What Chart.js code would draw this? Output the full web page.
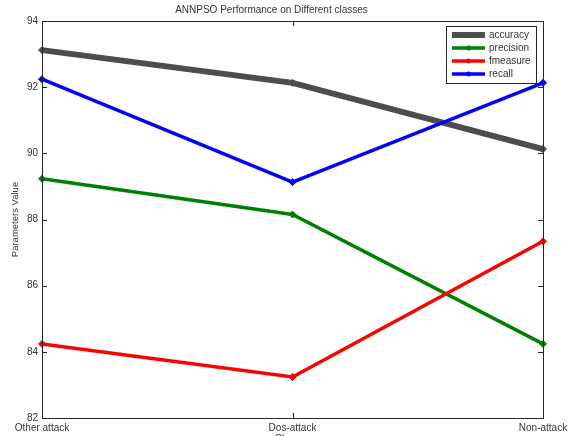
<!DOCTYPE html>
<html>
<head>
<meta charset="utf-8">
<script src="https://cdn.jsdelivr.net/npm/chart.js@4/dist/chart.umd.min.js"></script>
<style>
  html, body { margin: 0; padding: 0; background: #fff; overflow: hidden; }
  #wrap { width: 575px; height: 436px; overflow: hidden; position: relative; }
</style>
</head>
<body>
<div id="wrap"><canvas id="myChart" width="575" height="445"></canvas></div>
<script>
var classes = ["Other attack", "Dos-attack", "Non-attack"];
var accuracy = [93.12, 92.13, 90.13];
var precision = [89.23, 88.15, 84.24];
var fmeasure = [84.24, 83.24, 87.34];
var recall = [92.24, 89.13, 92.13];
var yTicks = [82, 84, 86, 88, 90, 92, 94];

var FONT = "'Liberation Sans', Arial, sans-serif";
var TXT = "#333333";

// frame, inward ticks and boxed legend, MATLAB style
var matlabAxes = {
  id: 'matlabAxes',
  afterDatasetsDraw: function(chart) {
    var c = chart.ctx, a = chart.chartArea;
    var xs = chart.scales.x, ys = chart.scales.y;
    c.save();
    c.strokeStyle = "#262626";
    c.lineWidth = 1;
    c.beginPath();
    yTicks.forEach(function(v) {
      var y = Math.round(ys.getPixelForValue(v)) + 0.5;
      c.moveTo(a.left, y); c.lineTo(a.left + 5, y);
      c.moveTo(a.right, y); c.lineTo(a.right - 5, y);
    });
    classes.forEach(function(k, i) {
      var x = Math.round(xs.getPixelForValue(i)) + 0.5;
      c.moveTo(x, a.bottom); c.lineTo(x, a.bottom - 5);
      c.moveTo(x, a.top); c.lineTo(x, a.top + 5);
    });
    c.stroke();
    c.strokeRect(Math.round(a.left) + 0.5, Math.round(a.top) + 0.5,
                 Math.round(a.right - a.left), Math.round(a.bottom - a.top));

    // legend
    var lx = 446, ly = 26, lw = 90, lh = 57;
    c.fillStyle = "#fff";
    c.fillRect(lx, ly, lw, lh);
    c.strokeStyle = "#262626";
    c.strokeRect(lx + 0.5, ly + 0.5, lw, lh);
    var ds = chart.data.datasets;
    c.font = "10px " + FONT;
    c.textBaseline = "middle";
    for (var i = 0; i < ds.length; i++) {
      var y = ly + 9 + i * 13;
      c.strokeStyle = ds[i].borderColor;
      c.lineWidth = ds[i].borderWidth;
      c.beginPath(); c.moveTo(452, y); c.lineTo(485, y); c.stroke();
      c.fillStyle = ds[i].borderColor;
      c.beginPath(); c.arc(468.5, y, 2.5, 0, Math.PI * 2); c.fill();
      c.fillStyle = TXT;
      c.fillText(ds[i].label, 489, y + 0.5);
    }
    c.restore();
  }
};

function series(label, data, color, width, order) {
  return {
    label: label,
    data: data,
    borderColor: color,
    backgroundColor: color,
    borderWidth: width,
    pointStyle: 'rectRot',
    pointRadius: 3.5,
    pointBorderWidth: 1,
    tension: 0,
    clip: false,
    order: order
  };
}

var ctx = document.getElementById("myChart");
var chart_params = {
  type: 'line',
  data: {
    labels: classes,
    datasets: [
      series('accuracy', accuracy, '#4d4d4d', 6, 3),
      series('precision', precision, '#008000', 3.5, 2),
      series('fmeasure', fmeasure, '#ff0000', 3.5, 1),
      series('recall', recall, '#0000ff', 3.5, 0)
    ]
  },
  plugins: [matlabAxes],
  options: {
    responsive: false,
    animation: false,
    layout: { padding: { left: 0, right: 32, top: 0, bottom: 0 } },
    plugins: {
      legend: { display: false },
      tooltip: { enabled: false },
      title: {
        display: true,
        text: 'ANNPSO Performance on Different classes',
        color: TXT,
        font: { family: FONT, size: 10, weight: 'normal' },
        padding: { top: 4, bottom: 5 }
      }
    },
    scales: {
      x: {
        offset: false,
        grid: { display: false, drawTicks: false },
        border: { display: false },
        ticks: {
          color: TXT,
          font: { family: FONT, size: 10 },
          padding: 4,
          maxRotation: 0,
          autoSkip: false
        },
        title: {
          display: true,
          text: 'Classes',
          color: TXT,
          font: { family: FONT, size: 10 },
          padding: { top: 2, bottom: 0 }
        },
        afterFit: function(s) { s.height = 27; }
      },
      y: {
        min: 82,
        max: 94,
        grid: { display: false, drawTicks: false },
        border: { display: false },
        ticks: {
          stepSize: 2,
          color: TXT,
          font: { family: FONT, size: 10 },
          padding: 4
        },
        title: {
          display: true,
          text: 'Parameters Value',
          color: TXT,
          font: { family: FONT, size: 9.5 },
          padding: { top: 10, bottom: 0 }
        },
        afterFit: function(s) { s.width = 42; }
      }
    }
  }
};
var myChart = new Chart(ctx, chart_params);
</script>
</body>
</html>
